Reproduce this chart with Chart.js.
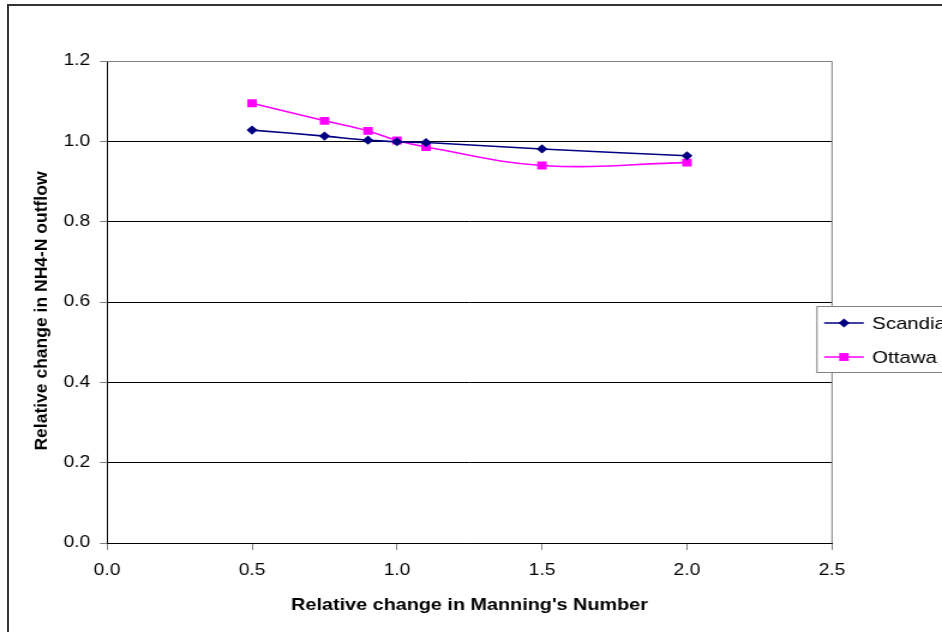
<!DOCTYPE html>
<html lang="en">
<head>
    <meta charset="UTF-8">
    <title>Relative change in NH4-N outflow</title>
    <style>
        body {
            margin: 0;
            background: #fff;
            overflow: hidden;
        }
        .frame {
            position: absolute;
            left: 7px;
            top: 4px;
            width: 1000px;
            height: 1000px;
            border: 2px solid #333;
        }
        /* the chart is drawn narrow and widened, like the exported sheet */
        .wrap {
            position: absolute;
            left: 0;
            top: 0;
            width: 785px;
            height: 632px;
            transform-origin: 0 0;
        }
    </style>
</head>
<body>
    <div class="frame"></div>
    <div class="wrap" id="wrap">
        <canvas id="nh4Chart" width="785" height="632"></canvas>
    </div>

    <script src="https://cdn.jsdelivr.net/npm/chart.js"></script>

    <script>
        // Relative change in Manning's number (x) and the NH4-N outflow response (y)
        const manningRatio = [0.5, 0.75, 0.9, 1.0, 1.1, 1.5, 2.0];
        const scandia = [1.028, 1.013, 1.003, 0.999, 0.997, 0.981, 0.964];
        const ottawa = [1.095, 1.051, 1.026, 1.002, 0.986, 0.940, 0.947];
        const seriesNames = ['Scandia', 'Ottawa'];
        const xTicks = [0.0, 0.5, 1.0, 1.5, 2.0, 2.5];
        const yTicks = [0.0, 0.2, 0.4, 0.6, 0.8, 1.0, 1.2];
        const yTitle = 'Relative change in NH4-N outflow';

        const FONT = 'Arial, "Liberation Sans", sans-serif';
        const STRETCH = 1.2;
        document.getElementById('wrap').style.transform = 'scaleX(' + STRETCH + ')';

        function toPoints(values) {
            return manningRatio.map((x, i) => ({ x: x, y: values[i] }));
        }

        // gray border on the top and right of the plot area
        const plotBorder = {
            id: 'plotBorder',
            afterDraw(chart) {
                const { ctx, chartArea: a } = chart;
                ctx.save();
                ctx.strokeStyle = '#808080';
                ctx.lineWidth = 1;
                ctx.beginPath();
                ctx.moveTo(a.left, a.top + 0.5);
                ctx.lineTo(a.right, a.top + 0.5);
                ctx.lineTo(a.right, a.bottom);
                ctx.stroke();
                ctx.restore();
            }
        };

        // rotated y title, squeezed back so the widening leaves it upright-looking
        const sideTitle = {
            id: 'sideTitle',
            afterDraw(chart) {
                const { ctx, chartArea: a } = chart;
                ctx.save();
                ctx.translate(35, (a.top + a.bottom) / 2 + 9);
                ctx.scale(1 / STRETCH, 1);
                ctx.rotate(-Math.PI / 2);
                ctx.fillStyle = '#000';
                ctx.font = 'bold 17.5px ' + FONT;
                ctx.textAlign = 'center';
                ctx.textBaseline = 'middle';
                ctx.fillText(yTitle, 0, 0);
                ctx.restore();
            }
        };

        // boxed legend hanging over the right edge of the plot area
        const boxLegend = {
            id: 'boxLegend',
            afterDraw(chart) {
                const { ctx, chartArea: a } = chart;
                const left = a.right - 12.5;
                const top = 306.5;
                ctx.save();
                ctx.fillStyle = '#fff';
                ctx.fillRect(left, top, 200, 66);
                ctx.strokeStyle = '#808080';
                ctx.lineWidth = 1;
                ctx.strokeRect(left, top, 200, 66);
                chart.data.datasets.forEach((ds, i) => {
                    const y = top + 16.5 + i * 34;
                    ctx.strokeStyle = ds.borderColor;
                    ctx.lineWidth = 1.5;
                    ctx.beginPath();
                    ctx.moveTo(left + 6, y);
                    ctx.lineTo(left + 39, y);
                    ctx.stroke();
                    ctx.fillStyle = ds.pointBackgroundColor;
                    Chart.helpers.drawPoint(ctx, {
                        pointStyle: ds.pointStyle,
                        radius: ds.pointRadius,
                        rotation: 0,
                        borderWidth: 0
                    }, left + 22.5, y);
                    ctx.fillStyle = '#000';
                    ctx.font = '17px ' + FONT;
                    ctx.textBaseline = 'middle';
                    ctx.fillText(ds.label, left + 46, y + 1);
                });
                ctx.restore();
            }
        };

        const ctx = document.getElementById('nh4Chart').getContext('2d');
        const nh4Chart = new Chart(ctx, {
            type: 'scatter',
            data: {
                datasets: [{
                    label: seriesNames[0],
                    data: toPoints(scandia),
                    showLine: true,
                    borderColor: '#000080',
                    backgroundColor: '#000080',
                    pointBackgroundColor: '#000080',
                    pointBorderWidth: 0,
                    pointStyle: 'rectRot',
                    pointRadius: 4.6,
                    borderWidth: 1.6,
                    tension: 0.4
                }, {
                    label: seriesNames[1],
                    data: toPoints(ottawa),
                    showLine: true,
                    borderColor: '#FF00FF',
                    backgroundColor: '#FF00FF',
                    pointBackgroundColor: '#FF00FF',
                    pointBorderWidth: 0,
                    pointStyle: 'rect',
                    pointRadius: 5.6,
                    borderWidth: 1.6,
                    tension: 0.4
                }]
            },
            options: {
                responsive: false,
                animation: false,
                devicePixelRatio: 1,
                layout: {
                    padding: { left: 0, top: 61, right: 91.7, bottom: 0 }
                },
                plugins: {
                    legend: { display: false },
                    tooltip: { enabled: false }
                },
                scales: {
                    x: {
                        type: 'linear',
                        min: 0,
                        max: 2.5,
                        afterBuildTicks: (axis) => {
                            axis.ticks = xTicks.map(v => ({ value: v }));
                        },
                        afterFit: (axis) => { axis.height = 89; },
                        border: { display: true, color: '#000', width: 1 },
                        grid: {
                            drawOnChartArea: false,
                            drawTicks: true,
                            tickLength: 7,
                            tickColor: '#808080'
                        },
                        ticks: {
                            color: '#000',
                            font: { family: FONT, size: 16 },
                            padding: 11,
                            callback: (v) => Number(v).toFixed(1)
                        },
                        title: {
                            display: true,
                            text: "Relative change in Manning's Number",
                            color: '#000',
                            font: { family: FONT, size: 16.5, weight: 'bold' },
                            padding: { top: 0, bottom: 17 }
                        }
                    },
                    y: {
                        min: 0,
                        max: 1.2,
                        afterBuildTicks: (axis) => {
                            axis.ticks = yTicks.map(v => ({ value: v }));
                        },
                        afterFit: (axis) => { axis.width = 89.2; },
                        border: { display: true, color: '#000', width: 1 },
                        grid: {
                            color: (c) => c.index === yTicks.length - 1 ? '#808080' : '#000',
                            lineWidth: 1,
                            tickLength: 6,
                            tickColor: '#808080'
                        },
                        ticks: {
                            color: '#000',
                            font: { family: FONT, size: 16 },
                            padding: 8,
                            callback: (v) => Number(v).toFixed(1)
                        },
                        title: { display: false }
                    }
                }
            },
            plugins: [plotBorder, sideTitle, boxLegend]
        });
    </script>
</body>
</html>
